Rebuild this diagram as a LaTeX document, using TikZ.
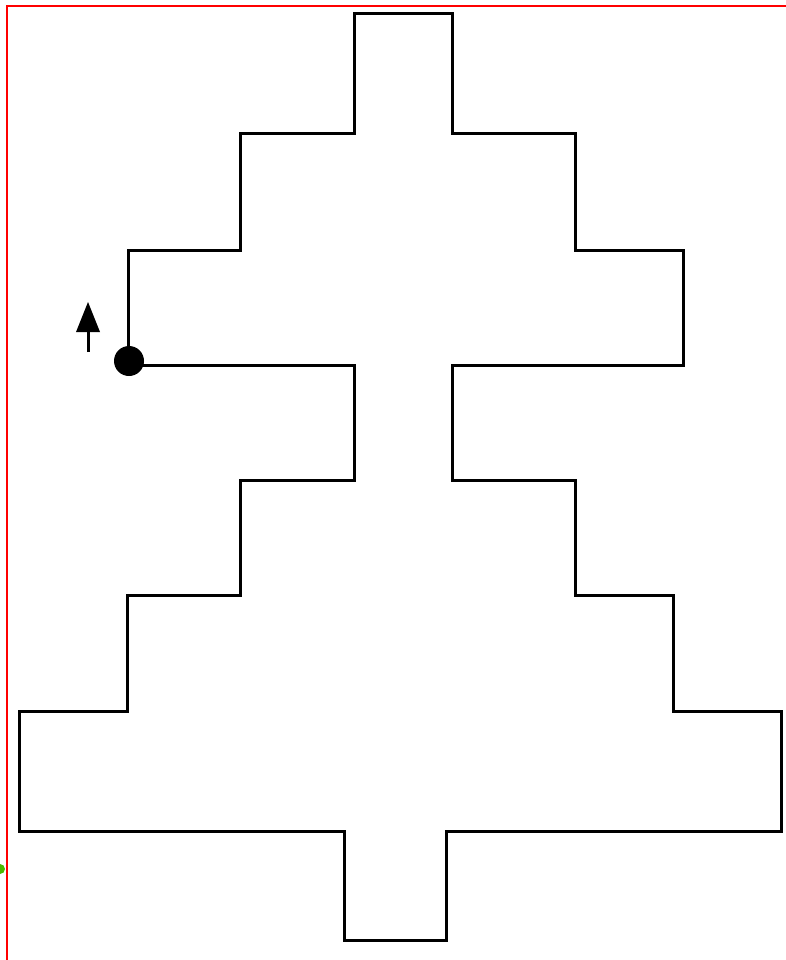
\documentclass[tikz,border=0pt]{standalone}
\begin{document}
\begin{tikzpicture}[x=1pt,y=-1pt,
  tree/.style={line width=3pt,line join=miter,draw=black},
  frame/.style={line width=1.6pt,draw=red}]
\useasboundingbox (0,0) rectangle (786,960);
% red frame (only top and left visible)
\draw[frame] (786,6) -- (7,6) -- (7,960);
% green mark at left edge
\fill[green!60!black!70!yellow] (0,869) circle (5);
% tree outline
\draw[tree] (128,365) -- (128,250) -- (240,250) -- (240,134) -- (354,134)
  -- (354,14) -- (452,14) -- (452,134) -- (575,134) -- (575,250)
  -- (683,250) -- (683,365) -- (452,365) -- (452,480) -- (575,480)
  -- (575,595) -- (673,595) -- (673,711) -- (781,711) -- (781,831)
  -- (446,831) -- (446,940) -- (344,940) -- (344,831) -- (19,831)
  -- (19,711) -- (127,711) -- (127,595) -- (240,595) -- (240,480)
  -- (354,480) -- (354,365) -- cycle;
% start dot
\fill (129,361) circle (15);
% direction arrow
\draw[line width=3pt] (88,352) -- (88,328);
\fill (88,302) -- (100,332) -- (76,332) -- cycle;
\end{tikzpicture}
\end{document}
